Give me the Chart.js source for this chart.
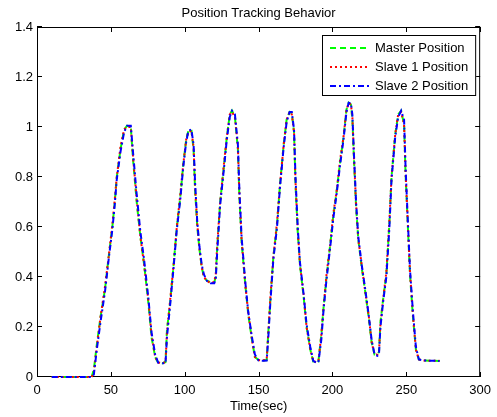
<!DOCTYPE html>
<html>
<head>
<meta charset="utf-8">
<script src="https://cdn.jsdelivr.net/npm/chart.js@4.4.1/dist/chart.umd.min.js"></script>
<style>
  body { margin: 0; background: #fff; }
  #wrap { width: 497px; height: 417px; position: relative; }
</style>
</head>
<body>
<div id="wrap"><canvas id="posChart"></canvas></div>
<script>
// time (sec) and positions
const timeSec = [10,20,30,37,38.5,40.5,43,46,48.5,51,
  52.5,54,56.5,59,61,63.5,65,67.5,70,72.5,
  75.5,77.5,80,82,85,87,88,90,92.5,94.5,
  97,99,101,102.5,104.5,106,107,108.5,110,111.5,
  113,115,117.5,120,121,122,124,126.5,128.5,130.5,
  132,134,136,137,138.5,141,143,145.5,147.5,150,
  153,155.5,156.5,158,160,162.5,164.5,167,169,171,
  172.5,174,175,176.5,178,180.5,182.5,185,187,189,
  190.5,192.5,194,196,198.5,200.5,203,205,207.5,209.5,
  211,212.5,213.5,214.5,216,217.5,220,222,224.5,226.5,
  228.5,230.5,231.5,232.5,234.5,236.5,238.5,240,242.5,244.5,
  246.5,248.5,249.5,251,252.5,254.5,256.5,258.5,262,267,
  272.5];

const masterPos = [0,0,0,0,0.03,0.13,0.24,0.35,0.48,0.60,
  0.69,0.80,0.91,0.99,1.005,1.0,0.87,0.70,0.56,0.45,
  0.29,0.16,0.08,0.057,0.055,0.06,0.19,0.29,0.45,0.59,
  0.72,0.85,0.95,0.985,0.99,0.91,0.75,0.60,0.51,0.44,
  0.40,0.385,0.38,0.38,0.40,0.52,0.70,0.84,0.96,1.05,
  1.065,1.04,0.91,0.72,0.54,0.37,0.25,0.15,0.08,0.068,
  0.066,0.068,0.17,0.31,0.48,0.61,0.77,0.93,1.03,1.06,
  1.055,0.98,0.77,0.58,0.45,0.32,0.20,0.11,0.062,0.06,
  0.062,0.17,0.28,0.40,0.53,0.64,0.75,0.85,0.96,1.07,
  1.097,1.09,1.03,0.88,0.68,0.55,0.43,0.35,0.24,0.14,
  0.09,0.09,0.10,0.22,0.32,0.41,0.61,0.80,0.97,1.05,
  1.065,1.01,0.81,0.61,0.41,0.24,0.11,0.07,0.066,0.065,
  0.064];

const slave1Pos = [0,0,0,0,0.02,0.12,0.24,0.36,0.48,0.61,
  0.70,0.80,0.92,0.99,1.0,1.0,0.88,0.71,0.56,0.45,
  0.30,0.17,0.08,0.058,0.056,0.06,0.18,0.30,0.45,0.59,
  0.73,0.85,0.95,0.98,0.985,0.92,0.76,0.61,0.51,0.44,
  0.40,0.385,0.375,0.38,0.41,0.53,0.70,0.85,0.96,1.05,
  1.06,1.04,0.92,0.73,0.55,0.37,0.26,0.15,0.08,0.068,
  0.066,0.07,0.17,0.32,0.48,0.62,0.77,0.93,1.03,1.06,
  1.05,0.98,0.78,0.59,0.45,0.33,0.20,0.11,0.063,0.06,
  0.063,0.17,0.28,0.41,0.53,0.65,0.75,0.86,0.96,1.07,
  1.095,1.09,1.04,0.89,0.69,0.55,0.44,0.35,0.25,0.14,
  0.09,0.09,0.10,0.21,0.32,0.42,0.62,0.80,0.97,1.05,
  1.06,1.01,0.82,0.62,0.42,0.25,0.11,0.07,0.066,0.065,
  0.065];

const slave2Pos = [0,0,0,0,0.01,0.11,0.22,0.34,0.47,0.59,
  0.68,0.79,0.90,0.98,1.005,1.005,0.90,0.73,0.58,0.47,
  0.31,0.18,0.09,0.058,0.055,0.055,0.16,0.28,0.44,0.58,
  0.71,0.84,0.94,0.985,0.99,0.93,0.78,0.62,0.52,0.45,
  0.41,0.385,0.375,0.375,0.39,0.50,0.69,0.83,0.95,1.04,
  1.065,1.05,0.93,0.75,0.56,0.38,0.26,0.16,0.09,0.066,
  0.065,0.066,0.15,0.30,0.47,0.60,0.76,0.92,1.02,1.06,
  1.06,0.99,0.80,0.60,0.46,0.33,0.21,0.12,0.065,0.058,
  0.058,0.15,0.27,0.39,0.52,0.63,0.74,0.84,0.95,1.06,
  1.097,1.095,1.05,0.90,0.70,0.56,0.44,0.36,0.25,0.15,
  0.09,0.085,0.09,0.20,0.31,0.40,0.59,0.79,0.96,1.04,
  1.065,1.03,0.84,0.63,0.43,0.26,0.12,0.07,0.066,0.065,
  0.064];

const seriesNames = ['Master Position', 'Slave 1 Position', 'Slave 2 Position'];
const xTicks = [0, 50, 100, 150, 200, 250, 300];
const yTicks = [0, 0.2, 0.4, 0.6, 0.8, 1, 1.2, 1.4];

const FONT = "'Liberation Sans', Arial, sans-serif";
Chart.defaults.font.family = FONT;
Chart.defaults.font.size = 13;
Chart.defaults.color = '#000';

function pts(vals) {
  return timeSec.map((t, i) => ({ x: t, y: vals[i] }));
}

// matlab style box with inward ticks (under the lines), legend inside the axes (over the lines)
const matlabBox = {
  id: 'matlabBox',
  beforeDatasetsDraw(chart) {
    const { ctx, chartArea: a, scales: { x, y } } = chart;
    ctx.save();
    ctx.strokeStyle = '#000';
    ctx.lineWidth = 1;
    ctx.beginPath();
    x.ticks.forEach(t => {
      const px = Math.round(x.getPixelForValue(t.value)) + 0.5;
      ctx.moveTo(px, a.bottom); ctx.lineTo(px, a.bottom - 5);
      ctx.moveTo(px, a.top); ctx.lineTo(px, a.top + 5);
    });
    y.ticks.forEach(t => {
      const py = Math.round(y.getPixelForValue(t.value)) - 0.5;
      ctx.moveTo(a.left, py); ctx.lineTo(a.left + 5, py);
      ctx.moveTo(a.right, py); ctx.lineTo(a.right - 5, py);
    });
    ctx.stroke();
    ctx.strokeRect(a.left + 0.5, a.top + 0.5, a.width - 1, a.height - 1);
    ctx.restore();
  },
  afterDatasetsDraw(chart) {
    const { ctx, chartArea: a } = chart;
    ctx.save();
    ctx.font = '13px ' + FONT;
    const ds = chart.data.datasets;
    const maxW = Math.max(...ds.map(d => ctx.measureText(d.label).width));
    const boxR = a.right - 4;
    const boxW = 8 + 40 + 5 + maxW + 8;
    const boxL = Math.round(boxR - boxW);
    const boxT = a.top + 8;
    const rows = [13, 32, 51];
    const boxH = 61;
    ctx.fillStyle = '#fff';
    ctx.fillRect(boxL, boxT, boxR - boxL, boxH);
    ctx.strokeStyle = '#000';
    ctx.lineWidth = 1;
    ctx.strokeRect(boxL + 0.5, boxT + 0.5, boxR - boxL - 1, boxH - 1);
    ds.forEach((d, i) => {
      const ly = boxT + rows[i];
      ctx.strokeStyle = d.borderColor;
      ctx.lineWidth = 2;
      ctx.setLineDash(d.borderDash);
      ctx.beginPath();
      ctx.moveTo(boxL + 8, ly);
      ctx.lineTo(boxL + 48, ly);
      ctx.stroke();
      ctx.setLineDash([]);
      ctx.fillStyle = '#000';
      ctx.textBaseline = 'middle';
      ctx.textAlign = 'left';
      ctx.fillText(d.label, boxL + 53, ly);
    });
    ctx.restore();
  }
};

new Chart(document.getElementById('posChart'), {
  type: 'line',
  data: {
    datasets: [
      { label: seriesNames[0], data: pts(masterPos), borderColor: '#00ff00', borderDash: [6, 4], order: 3, clip: 3 },
      { label: seriesNames[1], data: pts(slave1Pos), borderColor: '#ff0000', borderDash: [2, 3], order: 2, clip: 3 },
      { label: seriesNames[2], data: pts(slave2Pos), borderColor: '#0000ff', borderDash: [6, 3, 2, 3], order: 1, clip: 3 }
    ]
  },
  options: {
    responsive: true,
    maintainAspectRatio: false,
    animation: false,
    layout: { padding: { left: 0, right: 16, top: 0, bottom: 0 } },
    elements: {
      line: { borderWidth: 2, tension: 0, fill: false },
      point: { radius: 0 }
    },
    plugins: {
      legend: { display: false },
      tooltip: { enabled: false },
      title: {
        display: true,
        fullSize: false, // centre over the axes like matlab
        text: 'Position Tracking Behavior',
        color: '#000',
        font: { size: 13, weight: 'normal' },
        padding: { top: 6, bottom: 5.4 }
      }
    },
    scales: {
      x: {
        type: 'linear',
        min: 0,
        max: 300,
        grid: { display: false, drawTicks: false },
        border: { display: false },
        afterBuildTicks: s => { s.ticks = xTicks.map(v => ({ value: v })); },
        afterFit: s => { s.height = 40; },
        ticks: { padding: 6, color: '#000', maxRotation: 0, callback: v => String(v) },
        title: { display: true, text: 'Time(sec)', color: '#000', padding: { top: 0, bottom: 2.5 } }
      },
      y: {
        min: 0,
        max: 1.4,
        grid: { display: false, drawTicks: false },
        border: { display: false },
        afterBuildTicks: s => { s.ticks = yTicks.map(v => ({ value: v })); },
        afterFit: s => { s.width = 37; },
        ticks: { padding: 4, color: '#000', callback: v => String(+Number(v).toFixed(1)) }
      }
    }
  },
  plugins: [matlabBox]
});
</script>
</body>
</html>
